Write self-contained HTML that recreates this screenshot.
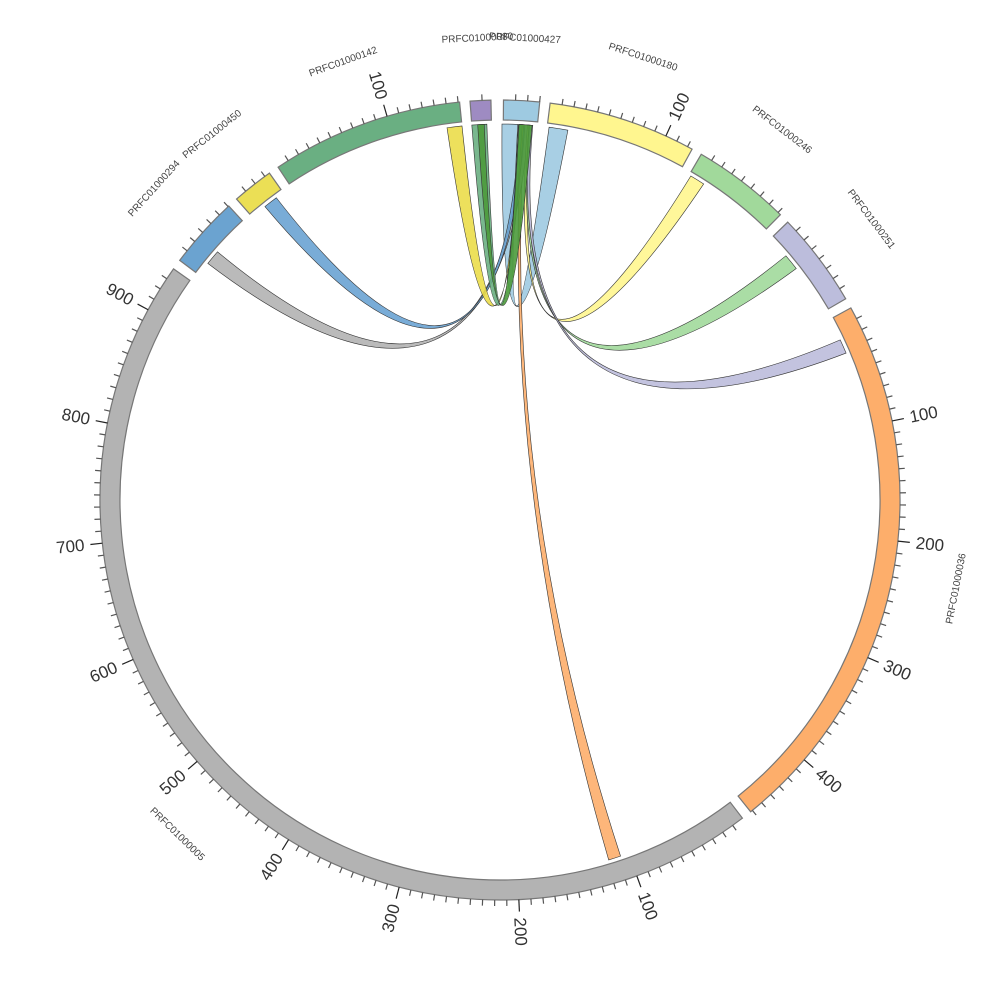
<!DOCTYPE html>
<html><head><meta charset="utf-8"><style>html,body{margin:0;padding:0;background:#fff}svg{display:block}</style></head>
<body>
<svg id="s" width="1000" height="1000" viewBox="0 0 1000 1000" xmlns="http://www.w3.org/2000/svg" font-family="Liberation Sans, sans-serif">
<g id="rib"></g>
<g id="seg"></g>
<g id="tk" stroke="#555" stroke-width="1.2"></g>
<g fill="#333" font-size="17" dominant-baseline="central">
<text transform="rotate(70 500 500)" x="918" y="500">100</text>
<text transform="rotate(87.3 500 500)" x="918" y="500">200</text>
<text transform="rotate(284.6 500 500)" x="82" y="500" text-anchor="end">300</text>
<text transform="rotate(301.9 500 500)" x="82" y="500" text-anchor="end">400</text>
<text transform="rotate(319.2 500 500)" x="82" y="500" text-anchor="end">500</text>
<text transform="rotate(336.5 500 500)" x="82" y="500" text-anchor="end">600</text>
<text transform="rotate(353.8 500 500)" x="82" y="500" text-anchor="end">700</text>
<text transform="rotate(371.1 500 500)" x="82" y="500" text-anchor="end">800</text>
<text transform="rotate(388.4 500 500)" x="82" y="500" text-anchor="end">900</text>
<text transform="rotate(-11.4 500 500)" x="918" y="500">100</text>
<text transform="rotate(5.9 500 500)" x="918" y="500">200</text>
<text transform="rotate(23.2 500 500)" x="918" y="500">300</text>
<text transform="rotate(40.5 500 500)" x="918" y="500">400</text>
<text transform="rotate(-65.5 500 500)" x="918" y="500">100</text>
<text transform="rotate(433.6 500 500)" x="82" y="500" text-anchor="end">100</text>
</g>
<g fill="#444" font-size="10" text-anchor="middle" dominant-baseline="central">
<text transform="rotate(17.9 500 500)" x="500" y="35">PRFC01000180</text>
<text transform="rotate(37.3 500 500)" x="500" y="35">PRFC01000246</text>
<text transform="rotate(52.9 500 500)" x="500" y="35">PRFC01000251</text>
<text transform="rotate(-79 500 500)" x="500" y="965">PRFC01000036</text>
<text transform="rotate(44 500 500)" x="500" y="965">PRFC01000005</text>
<text transform="rotate(-48 500 500)" x="500" y="35">PRFC01000294</text>
<text transform="rotate(-38.2 500 500)" x="500" y="35">PRFC01000450</text>
<text transform="rotate(-19.7 500 500)" x="500" y="35">PRFC01000142</text>
<text transform="rotate(-2.8 500 500)" x="500" y="38">PRFC01000080</text>
<text transform="rotate(3.1 500 500)" x="500" y="38">PRFC01000427</text>
</g>
</svg>
<script>
var cx=500,cy=500,NS="http://www.w3.org/2000/svg";
function P(r,a){a=a*Math.PI/180;return [(cx+r*Math.sin(a)).toFixed(2),(cy-r*Math.cos(a)).toFixed(2)];}
function el(g,t,at){var e=document.createElementNS(NS,t);for(var k in at)e.setAttribute(k,at[k]);document.getElementById(g).appendChild(e);}
var K=0.173;
var segs=[[0.5,5.7,"#9ecae1"],[7.2,28.7,"#fff68f"],[30.2,44.5,"#a1d99b"],[46,59.8,"#bcbddc"],[61.3,141.2,"#fdae6b"],[142.7,305.3,"#b3b3b3"],[306.8,317.3,"#6ba3d0"],[318.8,324.8,"#ebdf55"],[326.3,354.2,"#6aaf82"],[355.7,358.7,"#9e8bc2"]];
segs.forEach(function(s){
 var a=s[0],b=s[1],r1=380,r2=400,l=(b-a)>180?1:0;
 var p1=P(r2,a),p2=P(r2,b),p3=P(r1,b),p4=P(r1,a);
 el("seg","path",{d:"M"+p1+"A"+r2+" "+r2+" 0 "+l+" 1 "+p2+"L"+p3+"A"+r1+" "+r1+" 0 "+l+" 0 "+p4+"Z",fill:s[2],stroke:"#777","stroke-width":1.2});
 for(var u=10;a+u*K<=b+0.01;u+=10){var an=a+u*K,maj=u%100==0;var q1=P(400,an),q2=P(maj?412:406,an);
  el("tk","line",{x1:q1[0],y1:q1[1],x2:q2[0],y2:q2[1],stroke:maj?"#222":"#555"});}
});
var R=376;
var ribs=[[0.3,2.7,7.5,10.4,"#9ecae1"],[161.3,163.2,3.3,3.8,"#fdae6b"],[309,311.3,3.6,4.4,"#b3b3b3"],[321.3,323.5,3.0,3.8,"#6aa3d3"],[351.9,354.2,3.0,3.6,"#ebdd4a"],[355.7,358,2.8,3.4,"#6aaf82"],[30.5,32.8,4.2,4.9,"#fff68f"],[49.5,52,4.4,4.9,"#a1d99b"],[64.8,67,4.5,5.0,"#bcbddc"],[2.9,4.9,356.6,357.6,"#4b9a3b"]];
ribs.forEach(function(r){
 var a=P(R,r[0]),b=P(R,r[1]),c=P(R,r[2]),d=P(R,r[3]);
 el("rib","path",{d:"M"+a+"A"+R+" "+R+" 0 0 1 "+b+"Q500 486 "+c+"A"+R+" "+R+" 0 0 1 "+d+"Q500 486 "+a+"Z",fill:r[4],"fill-opacity":0.9,stroke:"#333","stroke-width":0.6});
});
</script>
</body></html>
